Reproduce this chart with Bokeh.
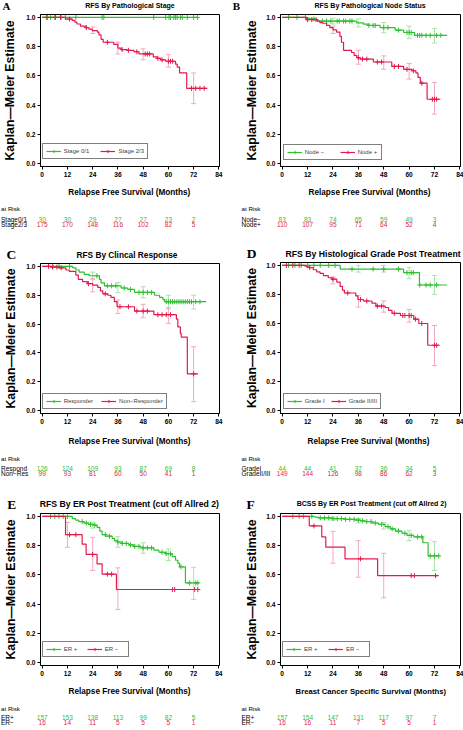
import numpy as np
from bokeh.plotting import figure
from bokeh.models import (Range1d, FixedTicker, Legend, LegendItem, Whisker,
                          TeeHead, ColumnDataSource, NumeralTickFormatter)
from bokeh.layouts import column, row
from bokeh.embed import file_html
from bokeh.resources import INLINE
from bokeh.core.properties import value

# ---------------- data ----------------
X_TICKS = [0, 12, 24, 36, 48, 60, 72, 84]
Y_TICKS = [0.0, 0.2, 0.4, 0.6, 0.8, 1.0]
RISK_T = [0, 12, 24, 36, 48, 60, 72]

# Panel A: RFS by pathological stage
A_g_t = [0, 74.0]
A_g_s = [1.0, 1.0]
A_g_cens = [2, 4, 6, 9, 11, 16, 28.5, 29.3, 53, 58.7, 60.3, 61, 62.6, 63.4, 64.2, 65.8, 66.6, 69, 72, 73.8]
A_r_t = [0, 11.1, 14.3, 15.5, 16.5, 18.2, 20.6, 22.2, 23.8, 26.2, 27.0, 28.0, 29.0, 34.0, 36.0, 37.6,
         40.4, 43.6, 46.0, 52.8, 54.7, 56.3, 58.7, 63.4, 64.2, 65.3, 68.7, 78.5]
A_r_s = [1.0, 0.989, 0.98, 0.968, 0.955, 0.94, 0.93, 0.92, 0.91, 0.90, 0.88, 0.85, 0.83, 0.815, 0.79, 0.78,
         0.775, 0.765, 0.75, 0.73, 0.72, 0.71, 0.70, 0.68, 0.66, 0.62, 0.515, 0.515]
A_r_cens = [2.4, 6.3, 8.7, 13, 21, 31, 38, 41, 45, 49, 50, 51, 55, 57, 60, 61, 62, 71, 73, 75, 77]
A_r_eb_t = [24, 36, 48, 60, 72]
A_r_eb_lo = [0.89, 0.75, 0.71, 0.66, 0.41]
A_r_eb_hi = [0.935, 0.83, 0.785, 0.745, 0.62]
A_risk_g = [30, 30, 29, 27, 27, 23, 2]
A_risk_r = [175, 170, 148, 116, 102, 82, 5]

# Panel B: RFS by pathological node status
B_g_t = [0, 11.4, 13.0, 15.4, 16.6, 35.2, 38.4, 40.7, 46.3, 53.4, 57.4, 62.6, 78.0]
B_g_s = [1.0, 0.995, 0.99, 0.985, 0.975, 0.963, 0.954, 0.945, 0.93, 0.913, 0.897, 0.877, 0.877]
B_g_cens = [3, 7, 11, 15, 19, 21, 23, 26, 27, 29, 30, 32, 33, 41, 43, 44, 48, 50, 55, 59, 60, 61, 64, 65,
            66, 68, 70, 73, 75]
B_g_eb_t = [24, 36, 48, 60, 72]
B_g_eb_lo = [0.955, 0.935, 0.895, 0.855, 0.825]
B_g_eb_hi = [0.995, 0.99, 0.965, 0.94, 0.925]
B_r_t = [0, 11.4, 16.6, 17.8, 19.3, 21.0, 22.5, 24.1, 25.7, 27.3, 28.0, 29.0, 32.8, 34.0, 35.2, 36.8,
         43.1, 51.8, 57.4, 61.3, 63.2, 64.2, 65.3, 68.5, 74.8]
B_r_s = [1.0, 0.985, 0.975, 0.965, 0.96, 0.945, 0.93, 0.915, 0.90, 0.87, 0.83, 0.775, 0.76, 0.74, 0.725,
         0.715, 0.695, 0.665, 0.645, 0.635, 0.62, 0.59, 0.55, 0.44, 0.44]
B_r_cens = [12, 14, 16, 36, 38, 40, 45, 47, 53, 55, 59, 62, 66, 71, 72, 73]
B_r_eb_t = [24, 36, 48, 60, 72]
B_r_eb_lo = [0.89, 0.68, 0.646, 0.578, 0.338]
B_r_eb_hi = [0.94, 0.776, 0.737, 0.685, 0.555]
B_risk_g = [83, 83, 74, 65, 59, 49, 3]
B_risk_r = [110, 107, 95, 71, 64, 52, 4]

# Panel C: RFS by clinical response
C_g_t = [0, 14.5, 16.0, 17.6, 20.0, 22.4, 27.2, 28.0, 29.6, 37.5, 40.7, 43.9, 53.4, 55.8, 57.4, 58.2, 78.0]
C_g_s = [1.0, 0.99, 0.975, 0.96, 0.945, 0.935, 0.91, 0.885, 0.865, 0.85, 0.84, 0.82, 0.80, 0.785, 0.77,
         0.755, 0.755]
C_g_cens = [5, 8, 13, 26, 31, 33, 35, 39, 42, 46, 48, 50, 52, 59, 60, 61, 62, 63, 64, 65, 66, 67, 68, 69,
            70, 71, 73, 75]
C_g_eb_t = [24, 36, 48, 60, 72]
C_g_eb_lo = [0.91, 0.818, 0.783, 0.704, 0.704]
C_g_eb_hi = [0.96, 0.889, 0.859, 0.80, 0.80]
C_r_t = [0, 3.8, 8.1, 11.3, 12.9, 16.0, 17.2, 19.2, 21.6, 24.0, 26.4, 27.7, 28.8, 31.2, 32.7, 34.3, 35.6,
         43.9, 53.1, 63.8, 64.5, 65.7, 66.1, 69.0, 74.1]
C_r_s = [1.0, 0.995, 0.99, 0.975, 0.965, 0.94, 0.91, 0.895, 0.88, 0.87, 0.855, 0.83, 0.81, 0.80, 0.785,
         0.755, 0.72, 0.69, 0.665, 0.635, 0.58, 0.535, 0.51, 0.255, 0.255]
C_r_cens = [3, 5, 7, 9, 22, 30, 37, 41, 45, 48, 50, 55, 57, 59, 61, 72]
C_r_eb_t = [24, 36, 48, 60, 72]
C_r_eb_lo = [0.824, 0.674, 0.644, 0.605, 0.062]
C_r_eb_hi = [0.917, 0.767, 0.737, 0.714, 0.443]
C_risk_g = [126, 124, 109, 93, 87, 69, 8]
C_risk_r = [99, 93, 81, 60, 50, 41, 1]

# Panel D: RFS by histological grade post treatment
D_g_t = [0, 27.4, 57.4, 64.9, 78.0]
D_g_s = [1.0, 0.975, 0.95, 0.865, 0.865]
D_g_cens = [3, 6, 9, 12, 15, 18, 22, 25, 33, 43, 48, 55, 59, 61, 62, 65, 68, 70, 73]
D_g_eb_t = [36, 48, 60, 72]
D_g_eb_lo = [0.954, 0.954, 0.908, 0.80]
D_g_eb_hi = [1.0, 1.0, 0.986, 0.93]
D_r_t = [0, 10.8, 11.6, 12.7, 14.7, 16.3, 17.9, 19.5, 21.8, 23.4, 25.8, 27.4, 28.5, 29.4, 34.8, 35.8,
         38.4, 42.4, 44.3, 48.7, 50.3, 51.9, 55.9, 62.2, 64.6, 68.8, 74.4]
D_r_s = [1.0, 0.995, 0.99, 0.985, 0.97, 0.955, 0.945, 0.93, 0.915, 0.905, 0.885, 0.855, 0.83, 0.81, 0.79,
         0.765, 0.755, 0.74, 0.72, 0.71, 0.69, 0.67, 0.655, 0.63, 0.60, 0.45, 0.45]
D_r_cens = [2, 5, 8, 13, 24, 31, 37, 40, 45, 47, 53, 57, 58, 60, 61, 63, 66, 72, 73]
D_r_eb_t = [24, 36, 48, 60, 72]
D_r_eb_lo = [0.873, 0.713, 0.678, 0.609, 0.31]
D_r_eb_hi = [0.92, 0.793, 0.756, 0.697, 0.586]
D_risk_g = [44, 44, 41, 37, 36, 34, 5]
D_risk_r = [149, 144, 126, 98, 86, 62, 3]

# Panel E: RFS by ER post treatment
E_g_t = [0, 14.3, 15.8, 17.4, 19.8, 22.2, 24.6, 26.1, 27.4, 28.5, 30.1, 33.3, 34.4, 35.7, 38.0, 41.2,
         43.6, 46.8, 53.1, 55.5, 58.6, 61.8, 63.4, 64.5, 65.3, 68.1, 74.5]
E_g_s = [1.0, 0.985, 0.975, 0.965, 0.955, 0.945, 0.94, 0.925, 0.90, 0.875, 0.865, 0.85, 0.835, 0.825,
         0.815, 0.805, 0.795, 0.785, 0.77, 0.755, 0.745, 0.725, 0.70, 0.68, 0.655, 0.545, 0.545]
E_g_cens = [4, 6, 8, 10, 12, 19, 21, 23, 25, 30, 32, 36, 38, 40, 42, 44, 46, 48, 50, 52, 57, 59, 61, 66,
            70, 73, 74]
E_g_eb_t = [24, 36, 48, 60, 72]
E_g_eb_lo = [0.92, 0.789, 0.748, 0.698, 0.432]
E_g_eb_hi = [0.96, 0.861, 0.82, 0.777, 0.652]
E_r_t = [0, 11.1, 19.0, 20.9, 26.1, 28.5, 35.3, 74.5]
E_r_s = [1.0, 0.875, 0.81, 0.74, 0.675, 0.605, 0.50, 0.50]
E_r_cens = [13, 16, 24, 31, 33, 62, 63, 72.5, 74]
E_r_eb_t = [12, 24, 36]
E_r_eb_lo = [0.789, 0.63, 0.364]
E_r_eb_hi = [0.959, 0.857, 0.648]
E_risk_g = [157, 153, 138, 113, 99, 82, 5]
E_risk_r = [16, 14, 11, 5, 5, 5, 1]

# Panel F: BCSS by ER post treatment
F_g_t = [0, 15.5, 17.1, 23.4, 29.7, 34.5, 36.9, 39.2, 42.4, 45.6, 48.7, 51.1, 53.5, 56.6, 59.0, 62.2,
         66.5, 69.0, 74.0]
F_g_s = [1.0, 0.995, 0.99, 0.985, 0.98, 0.975, 0.97, 0.965, 0.955, 0.945, 0.93, 0.915, 0.90, 0.885,
         0.87, 0.86, 0.82, 0.73, 0.73]
F_g_cens = [5, 8, 10, 14, 18, 20, 22, 24, 26, 28, 30, 32, 34, 36, 38, 40, 42, 44, 47, 50, 52, 55, 58,
            61, 64, 66, 70, 72, 74]
F_g_eb_t = [24, 36, 48, 60, 72]
F_g_eb_lo = [0.975, 0.955, 0.914, 0.834, 0.63]
F_g_eb_hi = [0.995, 0.985, 0.959, 0.902, 0.827]
F_r_t = [0, 12.8, 18.7, 20.6, 29.7, 45.1, 74.0]
F_r_s = [1.0, 0.935, 0.86, 0.79, 0.71, 0.595, 0.595]
F_r_cens = [15, 37, 61, 62.5, 72.5]
F_r_eb_t = [24, 36, 48]
F_r_eb_lo = [0.68, 0.584, 0.443]
F_r_eb_hi = [0.898, 0.834, 0.748]
F_risk_g = [157, 154, 147, 131, 117, 97, 7]
F_risk_r = [16, 16, 11, 7, 5, 5, 1]

# ---------------- style ----------------
GREEN = "#2fc02f"
RED = "#e41a4c"
GREEN_PALE = "#a8e4a8"
RED_PALE = "#f5a8c0"
SANS = "Liberation Sans"
SERIF = "Liberation Serif"
X0, X1 = -0.8, 84.3
Y0, Y1 = -0.02, 1.02
BOTPAD = 15     # main figure border below frame (tick labels)


def no_align(p):
    try:
        p.frame_align = False
    except Exception:
        pass


def surv_at(t_arr, s_arr, times):
    t_arr = np.asarray(t_arr)
    s_arr = np.asarray(s_arr)
    idx = np.searchsorted(t_arr, np.asarray(times), side="right") - 1
    idx = np.clip(idx, 0, len(s_arr) - 1)
    return s_arr[idx].tolist()


def txt(p, x, y, s, size, color="black", bold=False, align="center", font=SANS):
    p.text(x=[x], y=[y], text=[s], text_font=value(font), text_font_size=value(f"{size}px"),
           text_font_style="bold" if bold else "normal", text_color=color,
           text_align=align, text_baseline="middle")


def blank(W, H, xr, yr):
    p = figure(width=W, height=H, x_range=xr, y_range=yr, output_backend="svg",
               toolbar_location=None, title=None, x_axis_type=None, y_axis_type=None,
               min_border=0, min_border_left=0, min_border_right=0, min_border_top=0,
               min_border_bottom=0)
    p.outline_line_color = None
    p.background_fill_color = "white"
    p.border_fill_color = "white"
    no_align(p)
    return p


def curve(p, t, s, cens, color):
    r1 = p.step(x=t, y=s, mode="after", line_color=color, line_width=1.2)
    r2 = p.scatter(x=cens, y=surv_at(t, s, cens), marker="cross", size=5, line_color=color,
                   line_width=1)
    return [r1, r2]


def errbars(p, t, lo, hi, color):
    if not t:
        return
    src = ColumnDataSource(dict(base=t, lower=lo, upper=hi))
    p.add_layout(Whisker(source=src, base="base", lower="lower", upper="upper",
                         line_color=color, line_width=1,
                         upper_head=TeeHead(size=5, line_color=color, line_width=1),
                         lower_head=TeeHead(size=5, line_color=color, line_width=1)))


def panel(c):
    W, H, L, R, T, B = c["W"], c["H"], c["L"], c["R"], c["T"], c["B"]
    toppad = c["toppad"]
    Th = T - toppad
    Hm = B + BOTPAD - Th
    Ht = H - Th - Hm

    # header: letter + title (cell pixel coordinates)
    ph = blank(W, Th, Range1d(0, W), Range1d(Th, 0))
    txt(ph, c["letter"][1], c["letter"][2], c["letter"][0], c["letter"][3], bold=True, font=SERIF)
    txt(ph, c["title"][1], c["title"][2], c["title"][0], c["title"][3], bold=True)

    # main Kaplan-Meier plot
    p = figure(width=W, height=Hm, x_range=Range1d(X0, X1), y_range=Range1d(Y0, Y1),
               output_backend="svg", toolbar_location=None, title=None,
               min_border_left=L, min_border_right=W - R, min_border_top=toppad,
               min_border_bottom=BOTPAD)
    no_align(p)
    p.xgrid.visible = False
    p.ygrid.visible = False
    p.outline_line_color = "black"
    p.outline_line_width = 1
    p.background_fill_color = "white"
    p.border_fill_color = "white"
    p.xaxis.ticker = FixedTicker(ticks=X_TICKS)
    p.yaxis.ticker = FixedTicker(ticks=Y_TICKS)
    p.yaxis.formatter = NumeralTickFormatter(format="0.0")
    for ax in p.axis:
        ax.major_label_text_font = SANS
        ax.major_label_text_font_style = "bold"
        ax.major_label_text_font_size = "6.6px"
        ax.major_label_text_color = "black"
        ax.major_tick_in = 0
        ax.major_tick_out = 3
        ax.minor_tick_in = 0
        ax.minor_tick_out = 0
        ax.major_label_standoff = 2
        ax.axis_line_color = "black"
        ax.major_tick_line_color = "black"
    p.yaxis.axis_label = "Kaplan\u2014Meier Estimate"
    p.yaxis.axis_label_text_font = SANS
    p.yaxis.axis_label_text_font_style = "bold"
    p.yaxis.axis_label_text_font_size = "12.3px"
    p.yaxis.axis_label_text_color = "black"
    p.yaxis.axis_label_standoff = int(c["ylab_sd"])

    errbars(p, c["g_eb"][0], c["g_eb"][1], c["g_eb"][2], GREEN_PALE)
    errbars(p, c["r_eb"][0], c["r_eb"][1], c["r_eb"][2], RED_PALE)
    rg = curve(p, c["g"][0], c["g"][1], c["g"][2], GREEN)
    rr = curve(p, c["r"][0], c["r"][1], c["r"][2], RED)

    leg = Legend(items=[LegendItem(label=c["leg"][0], renderers=rg),
                        LegendItem(label=c["leg"][1], renderers=rr)],
                 location=c["leg_loc"], orientation="horizontal",
                 border_line_color="black", border_line_width=1, background_fill_alpha=1,
                 padding=3, spacing=c["leg_sp"], margin=0, glyph_width=15, glyph_height=8,
                 label_height=8, label_standoff=3, label_text_font=SANS,
                 label_text_font_size="6px", label_text_baseline="middle")
    p.add_layout(leg)

    # at-risk table: same month scale as the plot, y in cell pixels
    k = (X1 - X0) / (R - L)
    xs = X0 - L * k
    xe = X1 + (W - R) * k
    y_top = Th + Hm
    pt = blank(W, Ht, Range1d(xs, xe), Range1d(H, y_top))
    txt(pt, xs + c["xlab"][1] * k, c["xlab"][2], c["xlab"][0], c["xlab"][3], bold=True)
    rx = xs + c["risk_x"] * k
    txt(pt, rx, c["risk_y"][0], "at Risk", 6.2, align="left")
    txt(pt, rx, c["risk_y"][1], c["rows"][0], 6.5, align="left")
    txt(pt, rx, c["risk_y"][2], c["rows"][1], 6.5, align="left")
    for vals, yy, col in ((c["risk"][0], c["risk_y"][1], GREEN), (c["risk"][1], c["risk_y"][2], RED)):
        pt.text(x=RISK_T, y=[yy] * len(RISK_T), text=[str(v) for v in vals],
                text_font=value(SANS), text_font_size=value("6.5px"), text_color=col,
                text_align="center", text_baseline="middle")
    return column(ph, p, pt)


RFS = "Relapse Free Survival (Months)"
cfgs = [
    dict(W=231, H=245, L=40, R=219, T=14, B=166, toppad=2,
         g=(A_g_t, A_g_s, A_g_cens), r=(A_r_t, A_r_s, A_r_cens),
         g_eb=([], [], []), r_eb=(A_r_eb_t, A_r_eb_lo, A_r_eb_hi),
         leg=("Stage 0/1", "Stage 2/3"), leg_loc=(1.7, 7), leg_sp=11,
         letter=("A", 6, 5.9, 11), title=("RFS By Pathological Stage", 129.5, 4.8, 7),
         ylab_sd=6, xlab=(RFS, 128.8, 191.7, 8.2), risk_x=0.5,
         risk_y=(208, 219.3, 224.3), rows=("Stage0/1", "Stage2/3"), risk=(A_risk_g, A_risk_r)),
    dict(W=232, H=245, L=49, R=229, T=14, B=166, toppad=2,
         g=(B_g_t, B_g_s, B_g_cens), r=(B_r_t, B_r_s, B_r_cens),
         g_eb=(B_g_eb_t, B_g_eb_lo, B_g_eb_hi), r_eb=(B_r_eb_t, B_r_eb_lo, B_r_eb_hi),
         leg=("Node \u2212", "Node +"), leg_loc=(2.7, 6), leg_sp=15,
         letter=("B", 5, 5.9, 11), title=("RFS By Pathological Node Status", 138.5, 5, 7),
         ylab_sd=4, xlab=(RFS, 138, 191.7, 8.2), risk_x=10,
         risk_y=(208, 219.3, 224.3), rows=("Node\u2212", "Node+"), risk=(B_risk_g, B_risk_r)),
    dict(W=231, H=245, L=40, R=219, T=18, B=168, toppad=3,
         g=(C_g_t, C_g_s, C_g_cens), r=(C_r_t, C_r_s, C_r_cens),
         g_eb=(C_g_eb_t, C_g_eb_lo, C_g_eb_hi), r_eb=(C_r_eb_t, C_r_eb_lo, C_r_eb_hi),
         leg=("Responder", "Non\u2212Responder"), leg_loc=(1.7, 4), leg_sp=8,
         letter=("C", 10.8, 8.5, 13.5), title=("RFS By Clincal Response", 126.5, 9.3, 8.3),
         ylab_sd=5, xlab=(RFS, 129, 196, 8.2), risk_x=0.5,
         risk_y=(212.7, 222.7, 228.3), rows=("Respond", "Non\u2212Res"), risk=(C_risk_g, C_risk_r)),
    dict(W=232, H=245, L=49, R=229, T=17, B=168, toppad=3,
         g=(D_g_t, D_g_s, D_g_cens), r=(D_r_t, D_r_s, D_r_cens),
         g_eb=(D_g_eb_t, D_g_eb_lo, D_g_eb_hi), r_eb=(D_r_eb_t, D_r_eb_lo, D_r_eb_hi),
         leg=("Grade I", "Grade II/III"), leg_loc=(2.7, 4), leg_sp=6,
         letter=("D", 20, 7.5, 13.5),
         title=("RFS By Histological Grade Post Treatment", 141.5, 8.8, 8.7),
         ylab_sd=4, xlab=(RFS, 137, 196, 8.2), risk_x=10,
         risk_y=(212.7, 222.7, 228.3), rows=("GradeI", "GradeII/III"), risk=(D_risk_g, D_risk_r)),
    dict(W=231, H=240, L=40, R=219, T=23, B=175, toppad=3,
         g=(E_g_t, E_g_s, E_g_cens), r=(E_r_t, E_r_s, E_r_cens),
         g_eb=(E_g_eb_t, E_g_eb_lo, E_g_eb_hi), r_eb=(E_r_eb_t, E_r_eb_lo, E_r_eb_hi),
         leg=("ER +", "ER \u2212"), leg_loc=(1.7, 8.3), leg_sp=3,
         letter=("E", 11.3, 13.5, 13.5),
         title=("RFS By ER Post Treatment (cut off Allred 2)", 129, 13.7, 8.7),
         ylab_sd=5, xlab=(RFS, 129, 201, 8.2), risk_x=0.5,
         risk_y=(217.7, 227.3, 232.3), rows=("ER+", "ER\u2212"), risk=(E_risk_g, E_risk_r)),
    dict(W=232, H=240, L=49, R=229, T=23, B=175, toppad=3,
         g=(F_g_t, F_g_s, F_g_cens), r=(F_r_t, F_r_s, F_r_cens),
         g_eb=(F_g_eb_t, F_g_eb_lo, F_g_eb_hi), r_eb=(F_r_eb_t, F_r_eb_lo, F_r_eb_hi),
         leg=("ER +", "ER \u2212"), leg_loc=(2, 8.3), leg_sp=4,
         letter=("F", 19, 13.5, 13.5),
         title=("BCSS By ER Post Treatment (cut off Allred 2)", 140.2, 13.3, 7),
         ylab_sd=4, xlab=("Breast Cancer Specific Survival (Months)", 139.3, 201, 7.7),
         risk_x=10, risk_y=(217.7, 227.3, 232.3), rows=("ER+", "ER\u2212"),
         risk=(F_risk_g, F_risk_r)),
]

cols = [panel(c) for c in cfgs]
layout = column(row(cols[0], cols[1]), row(cols[2], cols[3]), row(cols[4], cols[5]))

open("out.html", "w").write(file_html(layout, INLINE))
